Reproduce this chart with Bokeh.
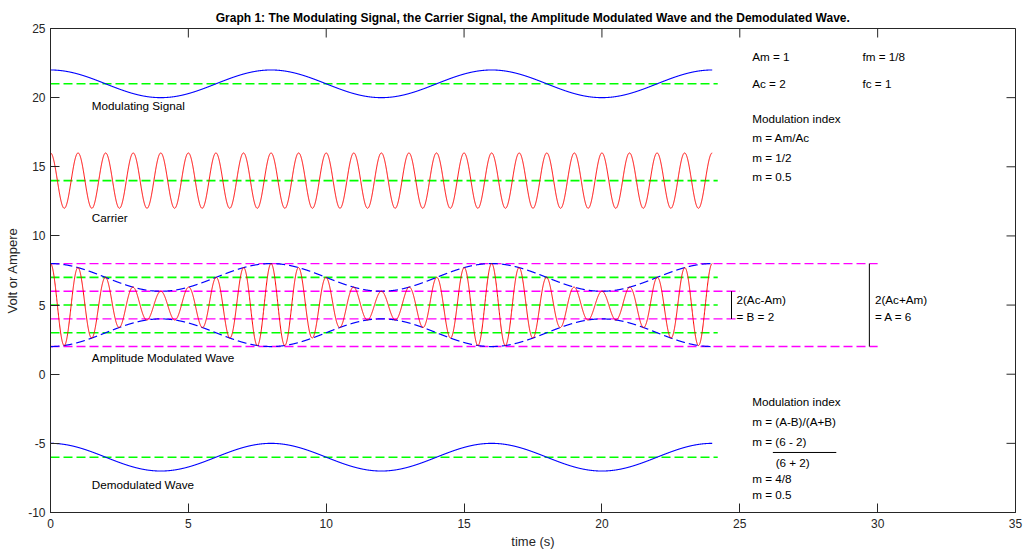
import numpy as np
from bokeh.plotting import figure
from bokeh.models import FixedTicker, ColumnDataSource
from bokeh.core.properties import value
from bokeh.embed import file_html
from bokeh.resources import INLINE

# ---- signal parameters (as annotated on the chart) ----
Am = 1.0
Ac = 2.0
fm = 1.0 / 8.0
fc = 1.0
t_end = 24.0

# vertical offsets of each trace on the graph
offset_mod = 21.0
offset_carrier = 14.0
offset_am = 5.0
offset_demod = -6.0

x_ticks = [0, 5, 10, 15, 20, 25, 30, 35]
y_ticks = [-10, -5, 0, 5, 10, 15, 20, 25]
y_tick_labels = ["-10", "-5", "0", "5", "10", "15", "20", "25"]

# reference dashed levels
green_levels = [21, 14, 7, 5, 3, -6]
green_end = 24.2
magenta_outer_levels = [8, 2]
magenta_outer_end = 30.0
magenta_inner_levels = [6, 4]
magenta_inner_end = 25.0

# ---- signals ----
t = np.linspace(0, t_end, 4801)
modulating = offset_mod + Am * np.cos(2 * np.pi * fm * t)
carrier = offset_carrier + Ac * np.cos(2 * np.pi * fc * t)
envelope = Ac + Am * np.cos(2 * np.pi * fm * t)
am_wave = offset_am + envelope * np.cos(2 * np.pi * fc * t)
env_upper = offset_am + envelope
env_lower = offset_am - envelope
demodulated = offset_demod + Am * np.cos(2 * np.pi * fm * t)

FONT = "Liberation Sans"
TXT = "#000000"
AX = "#262626"

W, H = 1023, 552
BL, BR, BT, BB = 50, 8, 28, 40
X0, X1, Y0, Y1 = 0, 35, -10, 25

p = figure(width=W, height=H, x_range=(X0, X1), y_range=(Y0, Y1),
           output_backend="svg", toolbar_location=None,
           min_border_left=BL, min_border_right=BR,
           min_border_top=BT, min_border_bottom=BB)
p.background_fill_color = "white"
p.border_fill_color = "white"
p.grid.visible = False
p.outline_line_color = AX
p.outline_line_width = 1

p.title.text = ("Graph 1: The Modulating Signal, the Carrier Signal, the Amplitude "
                "Modulated Wave and the Demodulated Wave.")
p.title.align = "center"
p.title.text_font = FONT
p.title.text_font_size = "12px"
p.title.text_font_style = "bold"
p.title.text_color = TXT
p.title.standoff = 7

TICK = 9
for ax in (p.xaxis[0], p.yaxis[0]):
    ax.major_tick_in = TICK
    ax.major_tick_out = 0
    ax.minor_tick_in = 0
    ax.minor_tick_out = 0
    ax.axis_line_color = AX
    ax.major_tick_line_color = AX
    ax.major_label_text_font = FONT
    ax.major_label_text_font_size = "12px"
    ax.major_label_text_color = AX
    ax.axis_label_text_font = FONT
    ax.axis_label_text_font_size = "13px"
    ax.axis_label_text_font_style = "normal"
    ax.axis_label_text_color = AX

p.xaxis[0].ticker = FixedTicker(ticks=x_ticks)
p.yaxis[0].ticker = FixedTicker(ticks=y_ticks)
p.yaxis[0].major_label_overrides = {v: s for v, s in zip(y_ticks, y_tick_labels)}
p.xaxis[0].axis_label = "time (s)"
p.yaxis[0].axis_label = "Volt or Ampere"
p.xaxis[0].major_label_standoff = 6
p.xaxis[0].axis_label_standoff = 3
p.yaxis[0].major_label_standoff = 5
p.yaxis[0].axis_label_standoff = 5

# mirrored inward ticks on the top and right edges of the box
dx_tick = TICK * (X1 - X0) / (W - BL - BR)
dy_tick = TICK * (Y1 - Y0) / (H - BT - BB)
p.segment(x0=x_ticks, x1=x_ticks, y0=[Y1] * len(x_ticks), y1=[Y1 - dy_tick] * len(x_ticks),
          line_color=AX, line_width=1)
p.segment(x0=[X1] * len(y_ticks), x1=[X1 - dx_tick] * len(y_ticks), y0=y_ticks, y1=y_ticks,
          line_color=AX, line_width=1)

# ---- dashed reference levels ----
dash = "9 4"
p.segment(x0=[0] * len(green_levels), x1=[green_end] * len(green_levels),
          y0=green_levels, y1=green_levels,
          line_color="#00ff00", line_width=1.6, line_dash=dash)
p.segment(x0=[0] * len(magenta_outer_levels), x1=[magenta_outer_end] * len(magenta_outer_levels),
          y0=magenta_outer_levels, y1=magenta_outer_levels,
          line_color="#ff00ff", line_width=1.4, line_dash=dash)
p.segment(x0=[0] * len(magenta_inner_levels), x1=[magenta_inner_end] * len(magenta_inner_levels),
          y0=magenta_inner_levels, y1=magenta_inner_levels,
          line_color="#ff00ff", line_width=1.4, line_dash=dash)

# ---- signals ----
p.line(t, modulating, line_color="#0000ff", line_width=1.1)
p.line(t, carrier, line_color="#ff0000", line_width=1.0)
p.line(t, env_upper, line_color="#0000ff", line_width=1.2, line_dash=dash)
p.line(t, env_lower, line_color="#0000ff", line_width=1.2, line_dash=dash)
p.line(t, am_wave, line_color="#ff0000", line_width=1.0)
p.line(t, demodulated, line_color="#0000ff", line_width=1.1)

# ---- brackets and fraction bar ----
p.segment(x0=[24.7, 29.7], x1=[24.7, 29.7], y0=[4, 2], y1=[6, 8],
          line_color="#000000", line_width=1)
p.segment(x0=[26.2], x1=[28.5], y0=[-5.66], y1=[-5.66],
          line_color="#000000", line_width=1)

# ---- annotations ----
labels = ["Modulating Signal", "Carrier", "Amplitude Modulated Wave", "Demodulated Wave",
          "Am = 1", "fm = 1/8", "Ac = 2", "fc = 1",
          "Modulation index", "m = Am/Ac", "m = 1/2", "m = 0.5",
          "2(Ac-Am)", "= B = 2", "2(Ac+Am)", "= A = 6",
          "Modulation index", "m = (A-B)/(A+B)", "m = (6 - 2)", "(6 + 2)",
          "m = 4/8", "m = 0.5"]
label_x = [1.5, 1.5, 1.5, 1.5,
           25.45, 29.45, 25.45, 29.45,
           25.45, 25.45, 25.45, 25.45,
           24.88, 24.88, 29.9, 29.9,
           25.45, 25.45, 25.45, 26.3,
           25.45, 25.45]
label_y = [19.4, 11.3, 1.2, -8.0,
           23.0, 23.0, 21.0, 21.0,
           18.5, 17.1, 15.7, 14.3,
           5.4, 4.2, 5.4, 4.2,
           -2.0, -3.4, -4.85, -6.35,
           -7.55, -8.7]
src = ColumnDataSource(dict(x=label_x, y=label_y, text=labels))
p.text(x="x", y="y", text="text", source=src,
       text_font=value(FONT), text_font_size="11.7px", text_color=TXT,
       text_align="left", text_baseline="middle")

open("out.html", "w").write(file_html(p, INLINE))
